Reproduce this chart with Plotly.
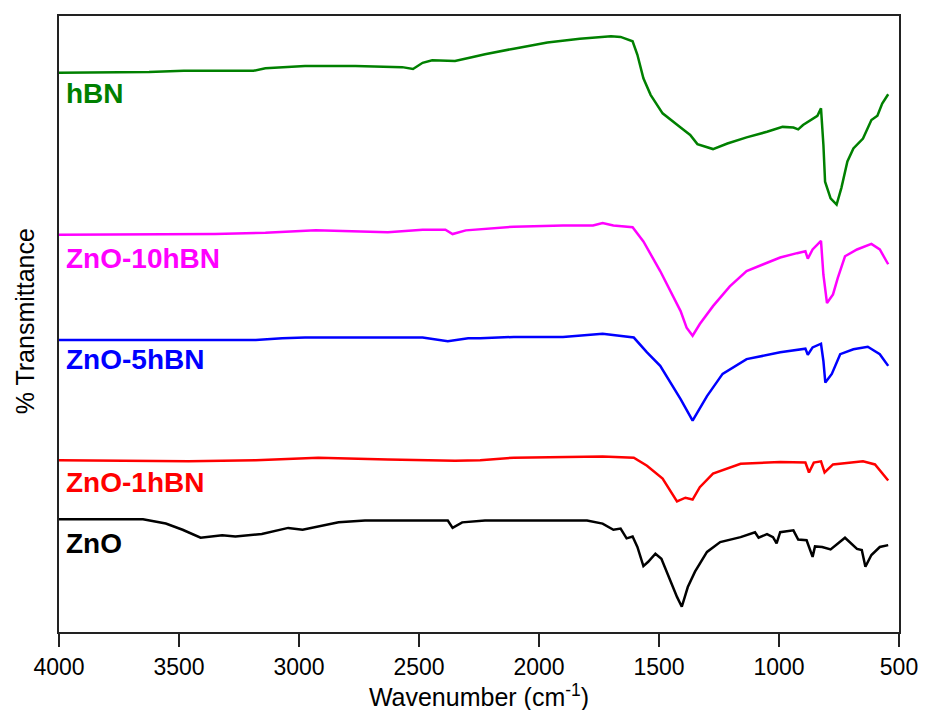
import plotly.graph_objects as go

# ---- data (wavenumber cm^-1, % transmittance, arbitrary offset units) ----
hbn_wn = [4000, 3690, 3625, 3480, 3190, 3140, 2975, 2765, 2570, 2525, 2485, 2445, 2350, 2280, 2225,
          2105, 1965, 1830, 1700, 1660, 1610, 1590, 1565, 1535, 1485, 1410, 1370, 1340, 1275, 1215,
          1135, 1050, 985, 940, 920, 900, 840, 825, 815, 808, 785, 760, 740, 715, 690, 650, 615,
          590, 570, 545]
hbn_t = [90.8, 90.8, 90.9, 91.1, 91.1, 91.5, 91.9, 91.9, 91.7, 91.4, 92.4, 92.8, 92.7, 93.3, 93.8,
         94.7, 95.7, 96.3, 96.7, 96.6, 95.9, 93.7, 89.9, 87.2, 84.2, 81.9, 80.7, 79.2, 78.4, 79.3,
         80.3, 81.2, 82.0, 81.9, 81.6, 82.3, 83.8, 85.0, 79.1, 73.1, 70.4, 69.4, 72.1, 76.4, 78.5,
         80.1, 83.1, 83.8, 85.8, 87.3]

z10_wn = [4000, 3350, 3140, 2930, 2630, 2485, 2390, 2360, 2305, 2245, 2105, 1900, 1775, 1735,
          1690, 1610, 1565, 1495, 1440, 1410, 1385, 1360, 1330, 1275, 1205, 1135, 1065, 995,
          925, 890, 880, 860, 825, 815, 800, 775, 755, 725, 675, 615, 580, 545]
z10_t = [64.5, 64.6, 64.8, 65.2, 64.9, 65.3, 65.3, 64.6, 65.2, 65.4, 65.8, 66.0, 66.0, 66.4,
         66.0, 65.7, 63.4, 58.6, 54.3, 52.1, 49.4, 48.1, 50.0, 52.9, 56.1, 58.6, 59.7, 60.8,
         61.5, 61.8, 60.6, 62.1, 63.5, 58.0, 53.4, 54.8, 57.5, 61.0, 62.1, 63.0, 62.1, 59.7]

z5_wn = [4000, 3350, 3180, 3070, 2975, 2485, 2380, 2295, 2245, 2105, 1900, 1735, 1605, 1550,
         1495, 1410, 1360, 1300, 1235, 1135, 995, 890, 880, 860, 825, 815, 807, 780, 745, 690,
         630, 580, 545]
z5_t = [47.4, 47.4, 47.4, 47.7, 47.8, 47.8, 47.2, 47.7, 47.7, 47.9, 47.9, 48.4, 47.8, 45.4,
        43.2, 37.8, 34.3, 38.3, 41.9, 44.3, 45.4, 46.0, 45.0, 46.2, 46.8, 44.0, 40.5, 41.9,
        45.1, 45.9, 46.3, 45.1, 43.2]

z1_wn = [4000, 3460, 3180, 2920, 2630, 2350, 2245, 2105, 1735, 1605, 1550, 1485, 1425, 1390,
         1360, 1330, 1275, 1160, 995, 890, 875, 855, 825, 810, 775, 650, 600, 545]
z1_t = [27.9, 27.7, 27.9, 28.3, 28.0, 27.8, 27.9, 28.3, 28.5, 28.3, 27.0, 24.9, 21.2, 21.8,
        21.5, 23.5, 25.7, 27.3, 27.6, 27.5, 25.9, 27.5, 27.7, 25.9, 27.2, 27.7, 27.2, 24.6]

zno_wn = [4000, 3650, 3555, 3485, 3410, 3320, 3265, 3155, 3045, 2985, 2835, 2725, 2380, 2360,
          2320, 2225, 1800, 1735, 1690, 1660, 1635, 1610, 1590, 1565, 1545, 1515, 1490, 1455,
          1425, 1405, 1380, 1350, 1300, 1245, 1160, 1100, 1085, 1050, 1025, 1010, 995, 940,
          920, 885, 860, 850, 820, 785, 725, 675, 655, 640, 615, 580, 545]
zno_t = [18.3, 18.3, 17.6, 16.6, 15.3, 15.7, 15.5, 15.9, 16.9, 16.6, 17.8, 18.1, 18.1, 16.9,
         17.8, 18.1, 18.1, 17.6, 16.6, 16.8, 15.2, 15.5, 13.8, 10.7, 11.4, 12.7, 11.9, 8.4,
         5.7, 4.1, 7.3, 9.8, 13.0, 14.6, 15.4, 16.2, 15.3, 15.9, 15.4, 14.4, 16.2, 16.5,
         15.0, 14.9, 12.2, 13.9, 13.8, 13.4, 15.3, 13.5, 13.3, 10.6, 12.5, 13.8, 14.1]

series_names = ["hBN", "ZnO-10hBN", "ZnO-5hBN", "ZnO-1hBN", "ZnO"]
series_colors = ["#008000", "#FF00FF", "#0000FF", "#FF0000", "#000000"]
label_y = [87.4, 60.7, 44.3, 24.2, 14.4]
label_x = 3980
x_ticks = [4000, 3500, 3000, 2500, 2000, 1500, 1000, 500]
y_title = "% Transmittance"

xs = [hbn_wn, z10_wn, z5_wn, z1_wn, zno_wn]
ys = [hbn_t, z10_t, z5_t, z1_t, zno_t]

fig = go.Figure()
for x, y, n, c in zip(xs, ys, series_names, series_colors):
    fig.add_trace(go.Scatter(x=x, y=y, mode="lines", name=n,
                             line=dict(color=c, width=2.5), showlegend=False))

for n, c, ly in zip(series_names, series_colors, label_y):
    fig.add_annotation(x=label_x, y=ly, text="<b>%s</b>" % n, showarrow=False,
                       xanchor="left", yanchor="middle",
                       font=dict(family="Liberation Sans, Arial", size=28, color=c))

# y-axis title placed as a rotated annotation
fig.add_annotation(xref="paper", yref="paper", x=-0.04, y=0.505, text=y_title,
                   textangle=-90, showarrow=False, xanchor="center", yanchor="middle",
                   font=dict(family="Liberation Sans, Arial", size=25, color="black"))

fig.update_layout(
    width=930, height=710,
    margin=dict(l=51, r=39, t=6, b=86),
    paper_bgcolor="white", plot_bgcolor="white",
    font=dict(family="Liberation Sans, Arial", color="black"),
)
fig.update_xaxes(range=[4000, 500], tickvals=x_ticks, ticktext=[str(v) for v in x_ticks],
                 showgrid=False, zeroline=False, showline=True, linecolor="#222222", linewidth=2,
                 mirror=True, ticks="outside", ticklen=13, tickwidth=2, tickcolor="#222222",
                 tickfont=dict(size=23),
                 title=dict(text="Wavenumber (cm<sup>-1</sup>)", font=dict(size=25), standoff=2))
fig.update_yaxes(range=[0, 100], showticklabels=False, showgrid=False, zeroline=False,
                 showline=True, linecolor="#222222", linewidth=2, mirror=True, ticks="")

fig.write_html("out.html")
